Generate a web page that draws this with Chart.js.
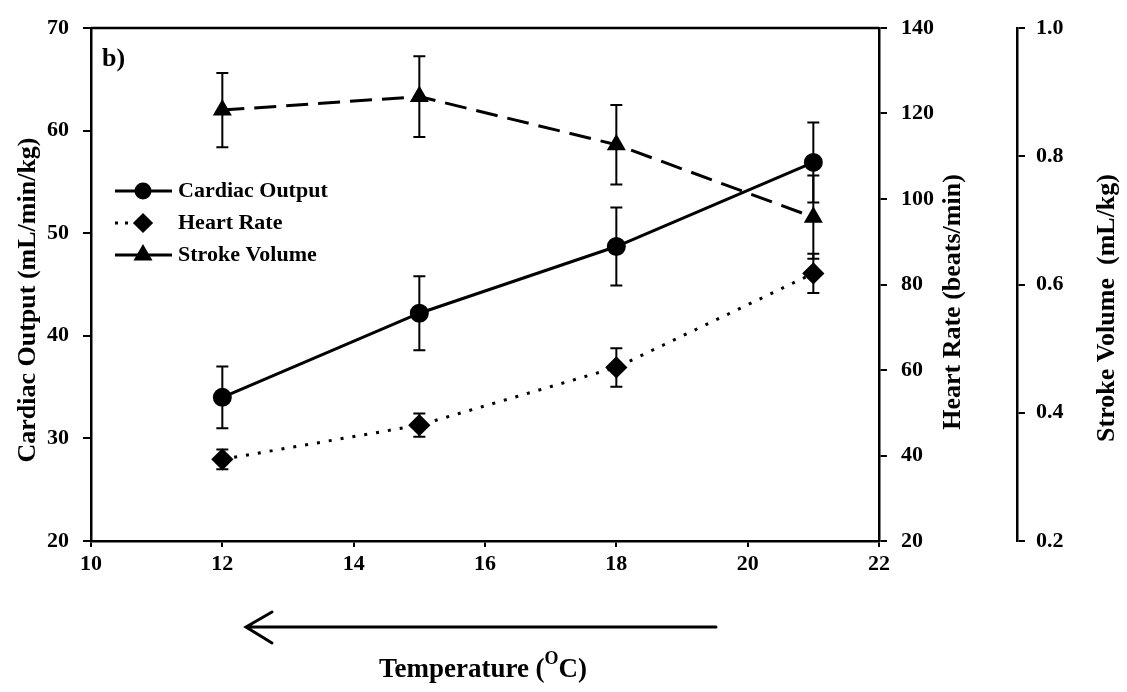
<!DOCTYPE html>
<html>
<head>
<meta charset="utf-8">
<title>Cardiac output, heart rate and stroke volume vs temperature</title>
<script src="https://cdn.jsdelivr.net/npm/chart.js@4.4.1/dist/chart.umd.min.js"></script>
<style>
  html, body { margin: 0; padding: 0; background: #fff; }
  #wrap { width: 1127px; height: 692px; }
</style>
</head>
<body>
<div id="wrap"><canvas id="myChart" width="1127" height="692"></canvas></div>
<script>
// temperatures (deg C) and the three measured variables, mean +/- error
const temps = [12, 15, 18, 21];
const cardiacOutput = [34.0, 42.2, 48.7, 56.9];
const cardiacOutputErr = [3.0, 3.6, 3.8, 3.9];
const heartRate = [39.1, 47.1, 60.6, 82.6];
const heartRateErr = [2.3, 2.7, 4.5, 4.6];
const strokeVolume = [0.872, 0.893, 0.818, 0.705];
const strokeVolumeErr = [0.058, 0.063, 0.062, 0.065];

const xTicks = [10, 12, 14, 16, 18, 20, 22];
const coTicks = [20, 30, 40, 50, 60, 70];
const hrTicks = [20, 40, 60, 80, 100, 120, 140];
const svTicks = [0.2, 0.4, 0.6, 0.8, 1.0];

const FONT = "'Liberation Serif', 'Times New Roman', serif";
Chart.defaults.font.family = FONT;
Chart.defaults.color = '#000';

const toPoints = (ys) => temps.map((t, i) => ({ x: t, y: ys[i] }));

const legendRows = [
  { label: 'Cardiac Output', style: 'circle', radius: 7, dash: [], from: 115, to: 172, y: 191 },
  { label: 'Heart Rate', style: 'rectRot', radius: 8, dash: [3, 7], from: 115, to: 132, y: 223 },
  { label: 'Stroke Volume', style: 'triangle', radius: 8, dash: [], from: 115, to: 172, y: 255 },
];

// vertical error bars with small caps, one per point
const errorBars = {
  id: 'errorBars',
  afterDatasetsDraw(chart) {
    const ctx = chart.ctx;
    ctx.save();
    ctx.strokeStyle = '#000';
    ctx.lineWidth = 2;
    ctx.setLineDash([]);
    chart.data.datasets.forEach((ds, i) => {
      const meta = chart.getDatasetMeta(i);
      const scale = chart.scales[ds.yAxisID];
      meta.data.forEach((pt, j) => {
        const v = ds.data[j].y;
        const e = ds.errors[j];
        const top = scale.getPixelForValue(v + e);
        const bot = scale.getPixelForValue(v - e);
        ctx.beginPath();
        ctx.moveTo(pt.x, top); ctx.lineTo(pt.x, bot);
        ctx.moveTo(pt.x - 6, top); ctx.lineTo(pt.x + 6, top);
        ctx.moveTo(pt.x - 6, bot); ctx.lineTo(pt.x + 6, bot);
        ctx.stroke();
      });
    });
    ctx.restore();
  }
};

// frame top, panel letter, legend, axis titles and the arrow under the x axis
const decorations = {
  id: 'decorations',
  afterDraw(chart) {
    const ctx = chart.ctx;
    const a = chart.chartArea;
    ctx.save();
    ctx.strokeStyle = '#000';
    ctx.fillStyle = '#000';

    ctx.lineWidth = 2.5;
    ctx.beginPath();
    ctx.moveTo(a.left, a.top); ctx.lineTo(a.right, a.top);
    ctx.stroke();

    ctx.font = `bold 26px ${FONT}`;
    ctx.textBaseline = 'alphabetic';
    ctx.textAlign = 'left';
    ctx.fillText('b)', 102, 66);

    legendRows.forEach((r) => {
      ctx.lineWidth = 3;
      ctx.setLineDash(r.dash);
      ctx.beginPath();
      ctx.moveTo(r.from, r.y); ctx.lineTo(r.to, r.y);
      ctx.stroke();
      ctx.setLineDash([]);
      Chart.helpers.drawPoint(ctx, { pointStyle: r.style, radius: r.radius, borderWidth: 1, rotation: 0 }, 143, r.y);
      ctx.font = `bold 22px ${FONT}`;
      ctx.textBaseline = 'middle';
      ctx.fillText(r.label, 178, r.y);
    });

    const vTitle = (text, x, y) => {
      ctx.save();
      ctx.translate(x, y);
      ctx.rotate(-Math.PI / 2);
      ctx.font = `bold 26px ${FONT}`;
      ctx.textAlign = 'center';
      ctx.textBaseline = 'middle';
      ctx.fillText(text, 0, 0);
      ctx.restore();
    };
    vTitle('Cardiac Output (mL/min/kg)', 28, 300);
    vTitle('Heart Rate (beats/min)', 953, 302);
    vTitle('Stroke Volume  (mL/kg)', 1107, 308);

    // arrow pointing to falling temperature
    ctx.lineWidth = 3;
    ctx.lineCap = 'round';
    ctx.beginPath();
    ctx.moveTo(716, 627); ctx.lineTo(246, 627);
    ctx.moveTo(272, 612); ctx.lineTo(246, 627); ctx.lineTo(272, 643);
    ctx.stroke();

    // x axis title with superscript O
    ctx.textBaseline = 'alphabetic';
    const p1 = 'Temperature (', p3 = 'C)';
    ctx.font = `bold 18px ${FONT}`;
    const w2 = ctx.measureText('O').width;
    ctx.font = `bold 27px ${FONT}`;
    const w1 = ctx.measureText(p1).width, w3 = ctx.measureText(p3).width;
    const x = 483 - (w1 + w2 + w3) / 2;
    ctx.textAlign = 'left';
    ctx.fillText(p1, x, 677);
    ctx.font = `bold 18px ${FONT}`;
    ctx.fillText('O', x + w1, 664);
    ctx.font = `bold 27px ${FONT}`;
    ctx.fillText(p3, x + w1 + w2, 677);
    ctx.restore();
  }
};

const tickFont = { size: 22, weight: 'bold' };
const axisGrid = { display: true, drawOnChartArea: false, drawTicks: true, tickLength: 8, color: '#000', lineWidth: 2 };
const axisBorder = { display: true, color: '#000', width: 2.5 };

new Chart(document.getElementById('myChart'), {
  type: 'scatter',
  data: {
    datasets: [
      {
        label: 'Cardiac Output',
        data: toPoints(cardiacOutput),
        errors: cardiacOutputErr,
        yAxisID: 'y',
        showLine: true,
        borderColor: '#000',
        backgroundColor: '#000',
        borderWidth: 3,
        pointStyle: 'circle',
        pointRadius: 8,
      },
      {
        label: 'Heart Rate',
        data: toPoints(heartRate),
        errors: heartRateErr,
        yAxisID: 'y1',
        showLine: true,
        borderColor: '#000',
        backgroundColor: '#000',
        borderWidth: 3,
        borderDash: [3, 9],
        pointStyle: 'rectRot',
        pointRadius: 9,
      },
      {
        label: 'Stroke Volume',
        data: toPoints(strokeVolume),
        errors: strokeVolumeErr,
        yAxisID: 'y2',
        showLine: true,
        borderColor: '#000',
        backgroundColor: '#000',
        borderWidth: 3,
        borderDash: [22, 10],
        pointStyle: 'triangle',
        pointRadius: 8,
      },
    ],
  },
  options: {
    responsive: false,
    animation: false,
    events: [],
    layout: { padding: { top: 28, left: 0, right: 0, bottom: 0 } },
    plugins: { legend: { display: false }, tooltip: { enabled: false } },
    scales: {
      x: {
        type: 'linear',
        min: 10, max: 22,
        afterBuildTicks: (s) => { s.ticks = xTicks.map((v) => ({ value: v })); },
        ticks: { font: tickFont, padding: 4 },
        grid: { ...axisGrid, tickLength: 6 },
        border: axisBorder,
        afterFit: (s) => { s.height = 151; },
      },
      y: {
        position: 'left',
        min: 20, max: 70,
        afterBuildTicks: (s) => { s.ticks = coTicks.map((v) => ({ value: v })); },
        ticks: { font: tickFont, padding: 14 },
        grid: axisGrid,
        border: axisBorder,
        afterFit: (s) => { s.width = 91; },
      },
      y1: {
        position: 'right',
        weight: 0,
        min: 20, max: 140,
        afterBuildTicks: (s) => { s.ticks = hrTicks.map((v) => ({ value: v })); },
        ticks: { font: tickFont, padding: 14 },
        grid: axisGrid,
        border: axisBorder,
        afterFit: (s) => { s.width = 138; },
      },
      y2: {
        position: 'right',
        weight: 1,
        min: 0.2, max: 1.0,
        afterBuildTicks: (s) => { s.ticks = svTicks.map((v) => ({ value: v })); },
        ticks: { font: tickFont, padding: 11, callback: (v) => v.toFixed(1) },
        grid: axisGrid,
        border: axisBorder,
        afterFit: (s) => { s.width = 110; },
      },
    },
  },
  plugins: [errorBars, decorations],
});
</script>
</body>
</html>
